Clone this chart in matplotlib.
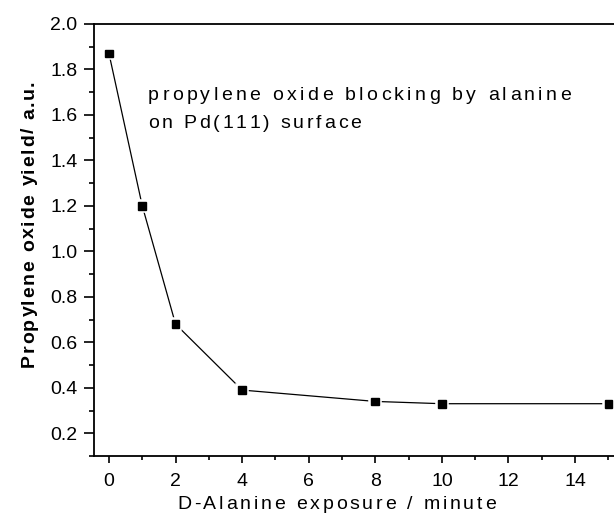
import matplotlib
matplotlib.use("Agg")
import matplotlib.pyplot as plt
import matplotlib.patheffects as pe
from matplotlib import font_manager, ft2font
from matplotlib.font_manager import FontProperties
from matplotlib.ticker import MultipleLocator
from matplotlib.transforms import IdentityTransform

exposure_min = [0, 1, 2, 4, 8, 10, 15]
po_yield = [1.87, 1.20, 0.68, 0.39, 0.34, 0.33, 0.33]
x_ticks = [0, 2, 4, 6, 8, 10, 12, 14]
y_ticks = [0.2, 0.4, 0.6, 0.8, 1.0, 1.2, 1.4, 1.6, 1.8, 2.0]
x_title = "D-Alanine exposure / minute"
y_title = "Propylene oxide yield/ a.u."
note_lines = ["propylene oxide blocking by alanine", "on Pd(111) surface"]

plt.rcParams['font.family'] = ['Liberation Sans', 'DejaVu Sans']

W, H, DPI = 614, 514, 100
fig = plt.figure(figsize=(W / DPI, H / DPI), dpi=DPI)
left, right, top, bottom = 94, 625, 24, 456
ax = fig.add_axes([left / W, 1 - bottom / H, (right - left) / W, (bottom - top) / H])

ax.plot(exposure_min, po_yield, color='black', lw=0.9, zorder=2)
ax.plot(exposure_min, po_yield, ls='none', marker='s', ms=5.5, color='black',
        zorder=3,
        path_effects=[pe.withStroke(linewidth=4, foreground='white')])

ax.set_xlim(-0.45, 15.5)
ax.set_ylim(0.1, 2.0)
ax.set_xticks(x_ticks)
ax.set_yticks(y_ticks)
ax.set_yticklabels([f"{v:.1f}" for v in y_ticks])
ax.xaxis.set_minor_locator(MultipleLocator(1))
ax.yaxis.set_minor_locator(MultipleLocator(0.1))
ax.tick_params(axis='x', which='major', direction='out', length=5, width=1.2,
               labelsize=14, pad=7.5, top=False)
ax.tick_params(axis='x', which='minor', direction='out', length=3, width=1.2,
               top=False)
ax.tick_params(axis='y', which='major', direction='out', length=7, width=1.2,
               labelsize=14, pad=5, right=False)
ax.tick_params(axis='y', which='minor', direction='out', length=3.5, width=1.2,
               right=False)
for s in ax.spines.values():
    s.set_linewidth(1.3)
ax.spines['right'].set_visible(False)


def tracked_text(x, y, s, size, tracking, weight='normal', vertical=False):
    """Draw s glyph by glyph (pixel coords, baseline anchored) with extra
    letter spacing of `tracking` pixels."""
    prop = FontProperties(family='Liberation Sans', weight=weight, size=size)
    font = ft2font.FT2Font(font_manager.findfont(prop))
    font.set_size(size, DPI)
    pos = 0.0
    for ch in s:
        if vertical:
            px, py = x, y + pos
        else:
            px, py = x + pos, y
        if ch != ' ':
            fig.text(px, py, ch, transform=IdentityTransform(),
                     fontproperties=prop, ha='left', va='baseline',
                     rotation=90 if vertical else 0, rotation_mode='anchor')
        adv = font.load_char(ord(ch)).linearHoriAdvance / 65536.0
        pos += adv + tracking


tracked_text(177, H - 509, x_title, 14, 2.8)
tracked_text(34, H - 367, y_title, 14, 1.6, weight='bold', vertical=True)
tracked_text(148, H - 100, note_lines[0], 14, 3.35)
tracked_text(148, H - 128, note_lines[1], 14, 2.8)

fig.savefig("out.png", dpi=DPI)
